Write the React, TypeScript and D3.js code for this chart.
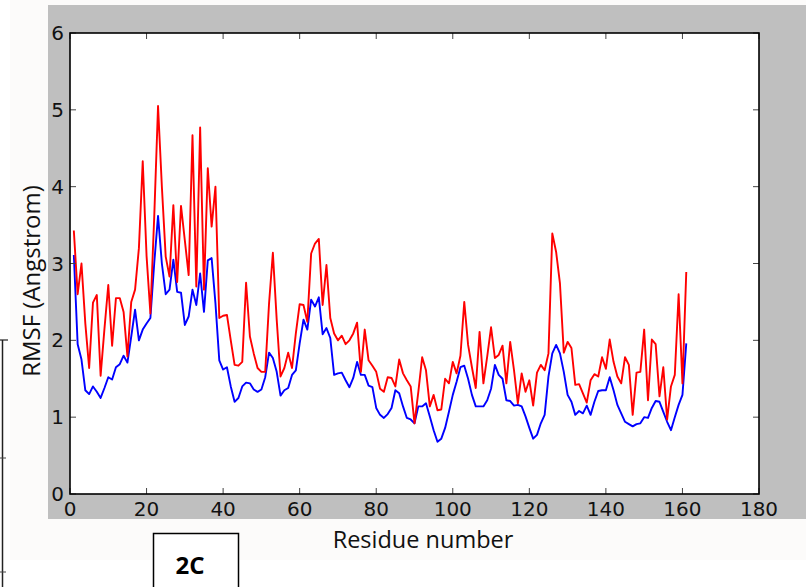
import React from "react";
import * as d3 from "d3";

const redValues: number[] = [
  3.43, 2.6, 3.0, 2.22, 1.64, 2.49, 2.59, 1.54, 2.15, 2.72,
  1.93, 2.55, 2.55, 2.37, 1.79, 2.5, 2.66, 3.2, 4.33, 3.1,
  2.35, 3.6, 5.05, 4.0, 3.09, 2.83, 3.76, 2.76, 3.75, 3.3,
  2.85, 4.67, 2.7, 4.77, 2.66, 4.24, 3.48, 4.0, 2.29, 2.32,
  2.33, 2.0, 1.68, 1.67, 1.72, 2.75, 2.05, 1.83, 1.64, 1.59,
  1.59, 2.48, 3.14, 2.27, 1.53, 1.64, 1.84, 1.64, 2.09, 2.47,
  2.46, 2.24, 3.13, 3.26, 3.32, 2.46, 2.98, 2.29, 2.09, 2.0,
  2.06, 1.95, 2.0, 2.09, 2.23, 1.59, 2.14, 1.74, 1.67, 1.59,
  1.37, 1.33, 1.52, 1.51, 1.4, 1.75, 1.57, 1.48, 1.4, 0.92,
  1.33, 1.78, 1.61, 1.14, 1.29, 1.09, 1.1, 1.5, 1.44, 1.72,
  1.57, 1.8, 2.5, 1.94, 1.65, 1.38, 2.11, 1.44, 1.79, 2.17,
  1.77, 1.81, 1.93, 1.44, 1.98, 1.61, 1.18, 1.57, 1.33, 1.48,
  1.15, 1.58, 1.68, 1.61, 1.83, 3.39, 3.15, 2.74, 1.84, 1.98,
  1.9, 1.42, 1.43, 1.31, 1.19, 1.48, 1.56, 1.53, 1.78, 1.63,
  2.01, 1.72, 1.53, 1.44, 1.78, 1.68, 1.03, 1.58, 1.59, 2.14,
  1.22, 2.01, 1.95, 1.27, 1.65, 0.97, 1.4, 1.55, 2.6, 1.44,
  2.89,
];

const blueValues: number[] = [
  3.11, 1.95, 1.75, 1.35, 1.3, 1.4, 1.33, 1.25, 1.38, 1.52,
  1.49, 1.65, 1.69, 1.8, 1.71, 2.05, 2.4, 2.0, 2.14, 2.22,
  2.29, 3.0, 3.62, 3.0, 2.6, 2.66, 3.05, 2.63, 2.62, 2.2,
  2.31, 2.66, 2.46, 2.87, 2.37, 3.04, 3.07, 2.48, 1.74, 1.62,
  1.65, 1.4, 1.2, 1.25, 1.4, 1.45, 1.44, 1.36, 1.33, 1.36,
  1.52, 1.84, 1.77, 1.59, 1.28, 1.35, 1.38, 1.55, 1.61, 1.96,
  2.27, 2.14, 2.53, 2.44, 2.56, 2.08, 2.16, 2.03, 1.55, 1.57,
  1.58, 1.48, 1.39, 1.51, 1.72, 1.55, 1.55, 1.41, 1.39, 1.12,
  1.03, 0.99, 1.04, 1.12, 1.35, 1.31, 1.14, 0.99, 0.97, 0.92,
  1.14, 1.14, 1.18, 1.01, 0.83, 0.68, 0.72, 0.86, 1.07, 1.29,
  1.46, 1.65, 1.67, 1.5, 1.29, 1.14, 1.14, 1.14, 1.22, 1.37,
  1.68, 1.55, 1.5, 1.22, 1.21, 1.15, 1.16, 1.14, 1.01, 0.86,
  0.72, 0.77, 0.92, 1.03, 1.53, 1.83, 1.94, 1.83, 1.59, 1.29,
  1.2, 1.03, 1.08, 1.05, 1.15, 1.03, 1.2, 1.34, 1.35, 1.35,
  1.52, 1.35, 1.16, 1.05, 0.94, 0.91, 0.88, 0.91, 0.92, 1.0,
  0.99, 1.12, 1.21, 1.2, 1.07, 0.94, 0.83, 1.0, 1.16, 1.29,
  1.96,
];

const xTicks: number[] = [0, 20, 40, 60, 80, 100, 120, 140, 160, 180];
const yTicks: number[] = [0, 1, 2, 3, 4, 5, 6];
const xLabel = "Residue number";
const yLabel = "RMSF (Angstrom)";
const panelLabel = "2C";

const W = 806;
const H = 587;
const plot = { left: 70, right: 759, top: 33, bottom: 494 };

export default function App() {
  const x = d3.scaleLinear().domain([0, 180]).range([plot.left, plot.right]);
  const y = d3.scaleLinear().domain([0, 6]).range([plot.bottom, plot.top]);
  const line = d3
    .line<number>()
    .x((_, i) => x(i + 1))
    .y((d) => y(d));

  const tickFont = "'DejaVu Sans', sans-serif";
  const labelFont = "'Open Sans', sans-serif";

  return (
    <div style={{ position: "absolute", left: 0, top: 0 }}>
      <svg width={W} height={H} style={{ display: "block" }}>
        <defs>
          <clipPath id="plotclip">
            <rect
              x={plot.left}
              y={plot.top}
              width={plot.right - plot.left}
              height={plot.bottom - plot.top}
            />
          </clipPath>
        </defs>
        <rect x={0} y={0} width={W} height={H} fill="#ffffff" />
        <rect x={10} y={0} width={W - 10} height={560} fill="#fcfbfa" />
        <rect x={48} y={5} width={W - 48} height={514} fill="#bfbfbf" />
        <rect
          x={plot.left}
          y={plot.top}
          width={plot.right - plot.left}
          height={plot.bottom - plot.top}
          fill="#ffffff"
        />
        {/* left border lines of neighbouring table */}
        <line x1={2.5} x2={2.5} y1={340} y2={H} stroke="#222" strokeWidth={1.5} />
        <line x1={0} x2={8} y1={340} y2={340} stroke="#222" strokeWidth={1.2} />
        <line x1={0} x2={6} y1={458} y2={458} stroke="#444" strokeWidth={1} />
        <line x1={0} x2={6} y1={572} y2={572} stroke="#444" strokeWidth={1} />

        <g clipPath="url(#plotclip)">
          <path d={line(blueValues) || ""} fill="none" stroke="#0000ff" strokeWidth={1.9} strokeLinejoin="round" />
          <path d={line(redValues) || ""} fill="none" stroke="#ff0000" strokeWidth={1.9} strokeLinejoin="round" />
        </g>

        {xTicks.map((t) => (
          <g key={"xt" + t}>
            <line x1={x(t)} x2={x(t)} y1={plot.bottom} y2={plot.bottom - 6} stroke="#444" strokeWidth={1} />
            <line x1={x(t)} x2={x(t)} y1={plot.top} y2={plot.top + 6} stroke="#444" strokeWidth={1} />
            <text
              x={x(t)}
              y={509}
              textAnchor="middle"
              dominantBaseline="central"
              fontFamily={tickFont}
              fontSize={20}
              fill="#111"
            >
              {t}
            </text>
          </g>
        ))}
        {yTicks.map((t) => (
          <g key={"yt" + t}>
            <line x1={plot.left} x2={plot.left + 6} y1={y(t)} y2={y(t)} stroke="#444" strokeWidth={1} />
            <line x1={plot.right} x2={plot.right - 6} y1={y(t)} y2={y(t)} stroke="#444" strokeWidth={1} />
            <text
              x={64}
              y={y(t)}
              textAnchor="end"
              dominantBaseline="central"
              fontFamily={tickFont}
              fontSize={20}
              fill="#111"
            >
              {t}
            </text>
          </g>
        ))}

        <rect
          x={plot.left}
          y={plot.top}
          width={plot.right - plot.left}
          height={plot.bottom - plot.top}
          fill="none"
          stroke="#000"
          strokeWidth={1.6}
        />

        <text
          x={423}
          y={539}
          textAnchor="middle"
          dominantBaseline="central"
          fontFamily={labelFont}
          fontSize={23.5}
          fill="#111"
        >
          {xLabel}
        </text>
        <text
          transform="translate(30,281) rotate(-90)"
          textAnchor="middle"
          dominantBaseline="central"
          fontFamily={labelFont}
          fontSize={24}
          fill="#111"
        >
          {yLabel}
        </text>

        <rect x={153.5} y={533.5} width={85} height={60} fill="#ffffff" stroke="#000" strokeWidth={1.5} />
        <text
          x={190}
          y={564}
          textAnchor="middle"
          dominantBaseline="central"
          fontFamily={labelFont}
          fontWeight="bold"
          fontSize={24}
          fill="#000"
        >
          {panelLabel}
        </text>
      </svg>
    </div>
  );
}
